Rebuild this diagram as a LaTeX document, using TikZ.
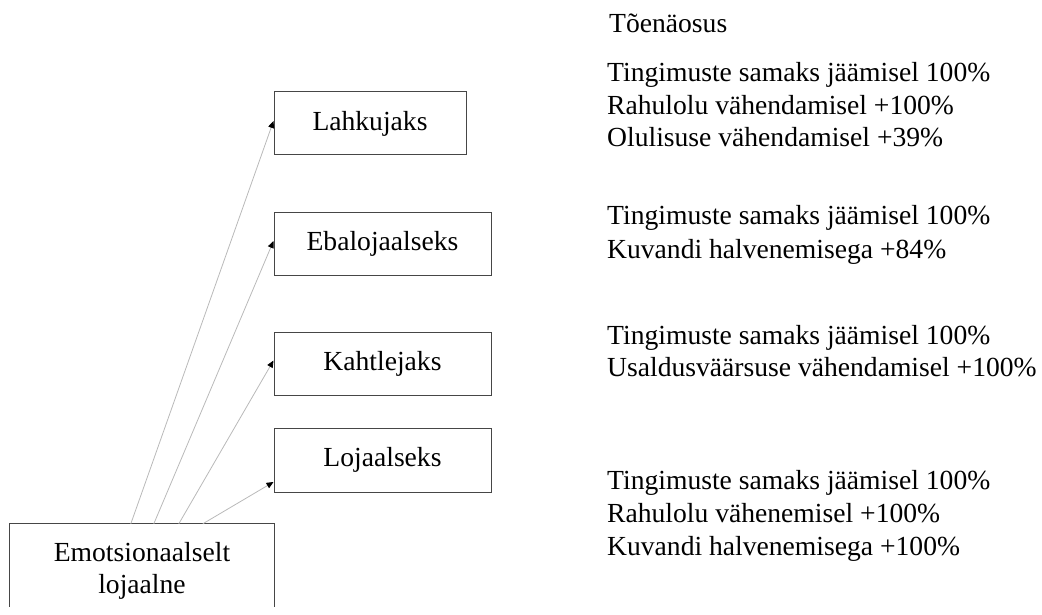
\documentclass[tikz,border=0pt]{standalone}
\usepackage{fontspec}
\setmainfont{Liberation Serif}
\usetikzlibrary{arrows.meta,calc}
\definecolor{boxline}{RGB}{70,70,70}
\definecolor{linkline}{RGB}{185,185,185}
\begin{document}
\begin{tikzpicture}[x=1pt,y=-1pt,
  txt/.style={font=\fontsize{27.6}{32.5}\selectfont, inner sep=0pt},
  statebox/.style={txt, draw=boxline, line width=1pt},
  link/.style={draw=linkline, line width=0.8pt,
    -{Triangle[length=7pt,width=6pt,color=black]}},
  note/.style={txt, anchor=base west}]
\useasboundingbox (0,0) rectangle (1042,615);

% outcome states
\node[statebox, minimum width=192pt, minimum height=63pt] (lah) at (370,123.5) {Lahkujaks};
\node[statebox, minimum width=217pt, minimum height=63pt] (eba) at (382.5,243.5) {Ebalojaalseks};
\node[statebox, minimum width=217pt, minimum height=63pt] (kah) at (382.5,363.5) {Kahtlejaks};
\node[statebox, minimum width=217pt, minimum height=64pt] (loj) at (382.5,460) {Lojaalseks};

% starting state, box open at the bottom
\node[txt, align=center, minimum width=264pt, minimum height=94pt] (emo) at (142,571)
  {Emotsionaalselt\\lojaalne};
\draw[boxline, line width=1pt]
  ($(emo.north west)+(0,83)$) -- (emo.north west) -- (emo.north east) -- ($(emo.north east)+(0,83)$);

% transitions
\coordinate (s1) at ($(emo.north west)+(121,0)$);
\coordinate (s2) at ($(emo.north west)+(144,0)$);
\coordinate (s3) at ($(emo.north west)+(169,0)$);
\coordinate (s4) at ($(emo.north west)+(193,0)$);
\draw[link] (s1) -- ([yshift=2.5pt]lah.west);
\draw[link] (s2) -- ([yshift=2.5pt]eba.west);
\draw[link] (s3) -- ([yshift=3pt]kah.west);
\draw[link] (s4) -- ([yshift=-22pt]loj.west);

% probabilities
\node[note] (hdr) at (609,33) {Tõenäosus};

\node[note] (a1) at (607,82) {Tingimuste samaks jäämisel 100\%};
\node[note] (a2) at (607,114.5) {Rahulolu vähendamisel +100\%};
\node[note] (a3) at (607,147) {Olulisuse vähendamisel +39\%};

\node[note] (b1) at (607,225) {Tingimuste samaks jäämisel 100\%};
\node[note] (b2) at (607,258) {Kuvandi halvenemisega +84\%};

\node[note] (c1) at (607,344) {Tingimuste samaks jäämisel 100\%};
\node[note] (c2) at (607,376) {Usaldusväärsuse vähendamisel +100\%};

\node[note] (d1) at (607,489) {Tingimuste samaks jäämisel 100\%};
\node[note] (d2) at (607,522) {Rahulolu vähenemisel +100\%};
\node[note] (d3) at (607,555) {Kuvandi halvenemisega +100\%};
\end{tikzpicture}
\end{document}
